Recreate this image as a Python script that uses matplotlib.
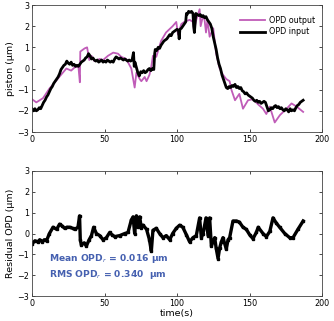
import matplotlib
matplotlib.use("Agg")
import matplotlib.pyplot as plt

# ---- data ----
t_in = [0, 1, 2, 3, 4, 5, 6, 7, 8, 9,
        10, 11, 12, 13, 14, 15, 16, 17, 18, 19,
        20, 21, 22, 23, 24, 25, 26, 27, 28, 29,
        30, 31, 32, 33, 34, 35, 36, 37, 38, 39,
        40, 41, 42, 43, 44, 45, 46, 47, 48, 49,
        50, 51, 52, 53, 54, 55, 56, 57, 58, 59,
        60, 61, 62, 63, 64, 65, 66, 67, 68, 69,
        70, 70.5, 71, 72, 73, 74, 75, 76, 77, 78,
        79, 80, 81, 82, 83, 84, 84.6, 85, 86, 87,
        88, 89, 90, 91, 92, 93, 94, 95, 96, 97,
        98, 99, 100, 101, 101.5, 102, 103, 104, 105, 106,
        106.5, 107, 108, 109, 110, 111, 111.5, 112, 113, 114,
        115, 116, 117, 118, 119, 120, 121, 122, 123, 124,
        125, 126, 127, 128, 129, 130, 131, 132, 133, 134,
        135, 136, 137, 138, 139, 140, 141, 142, 143, 144,
        145, 146, 147, 148, 149, 150, 151, 152, 153, 154,
        155, 156, 157, 158, 159, 160, 161, 162, 163, 164,
        165, 166, 167, 168, 169, 170, 171, 172, 173, 174,
        175, 176, 177, 178, 179, 180, 181, 182, 183, 184,
        185, 186, 187]
opd_in = [-1.9, -2.0, -1.9, -2.0, -1.95, -1.85, -1.9, -1.75, -1.6, -1.5,
          -1.35, -1.25, -1.1, -0.95, -0.85, -0.7, -0.6, -0.5, -0.4, -0.25,
          -0.05, 0.05, 0.15, 0.2, 0.35, 0.25, 0.2, 0.3, 0.15, 0.2,
          0.1, 0.15, 0.1, 0.2, 0.3, 0.35, 0.4, 0.5, 0.55, 0.7,
          0.6, 0.45, 0.5, 0.4, 0.35, 0.4, 0.3, 0.35, 0.4, 0.3,
          0.35, 0.3, 0.4, 0.35, 0.3, 0.35, 0.3, 0.45, 0.55, 0.5,
          0.45, 0.5, 0.45, 0.4, 0.45, 0.4, 0.35, 0.4, 0.35, 0.4,
          0.75, 0.1, 0.3, 0.05, -0.2, -0.35, -0.15, -0.2, -0.1, -0.2,
          -0.15, -0.05, 0.0, -0.1, 0.0, -0.05, 0.7, 0.9, 0.85, 1.0,
          0.95, 1.1, 1.2, 1.3, 1.35, 1.4, 1.5, 1.6, 1.55, 1.7,
          1.75, 1.8, 1.85, 1.8, 1.4, 1.85, 1.9, 2.0, 2.1, 2.2,
          2.6, 2.55, 2.7, 2.65, 2.7, 2.6, 2.0, 1.7, 2.6, 2.55,
          2.5, 2.55, 2.45, 2.5, 2.4, 2.45, 2.3, 2.2, 2.1, 1.9,
          1.5, 1.2, 0.9, 0.5, 0.2, 0.0, -0.3, -0.5, -0.7, -0.9,
          -0.95, -0.85, -0.9, -0.8, -0.85, -0.75, -0.9, -0.85, -0.95, -0.9,
          -1.05, -1.1, -1.2, -1.15, -1.25, -1.3, -1.35, -1.4, -1.5, -1.55,
          -1.5, -1.6, -1.55, -1.65, -1.6, -1.55, -1.6, -1.8, -2.0, -1.95,
          -1.85, -1.9, -1.8, -1.75, -1.85, -1.8, -1.9, -1.85, -1.95, -2.0,
          -1.9, -1.95, -2.05, -1.9, -2.0, -1.95, -2.0, -1.85, -1.75, -1.7,
          -1.6, -1.55, -1.5]

t_out = [0, 3, 7.6, 12, 17, 20, 23.7, 27, 29.4, 32,
         33, 33.3, 36.3, 38, 39.5, 41, 43, 46.7, 49, 52.4,
         56, 59.3, 61.6, 65, 68.5, 70.8, 72, 74.3, 75.4, 77.7,
         79, 81, 82.3, 83.4, 85.7, 89, 92.4, 97, 99.5, 100.7,
         103, 105, 108.7, 111, 111.7, 113.3, 115.6, 116.3, 118, 119,
         120, 121, 122.5, 125, 127, 129.4, 131.7, 134, 136.3, 137.5,
         140, 143, 145.5, 149, 152.4, 156, 159.3, 161.6, 164, 167.4,
         171, 175.6, 179, 182.5, 187]
opd_out = [-1.45, -1.6, -1.4, -0.95, -0.55, -0.3, 0.0, -0.1, 0.05, 0.1,
           -0.65, 0.8, 0.95, 1.0, 0.4, 0.6, 0.35, 0.45, 0.4, 0.6,
           0.75, 0.7, 0.55, 0.45, 0.0, -0.9, -0.2, -0.5, -0.6, -0.4,
           -0.6, -0.3, 0.1, 0.6, 0.55, 1.3, 1.7, 2.0, 2.2, 1.6,
           2.1, 2.2, 2.3, 2.2, 1.8, 2.3, 2.8, 2.0, 2.5, 2.3,
           1.7, 2.3, 1.5, 1.9, 0.7, 0.0, -0.3, -0.5, -0.6, -1.0,
           -1.5, -1.2, -1.9, -1.5, -1.45, -1.7, -1.9, -2.15, -1.8, -2.55,
           -2.2, -1.9, -1.65, -1.8, -2.05]

t_res = [0, 2, 4, 5.3, 7, 8.5, 10, 12, 14.5, 17,
         19, 21, 22.5, 24, 26, 28, 29.4, 31.7, 32.8, 33.3,
         34, 36, 37.5, 39.4, 41, 42.5, 44.4, 46.7, 49, 51.3,
         53.6, 55, 57, 60.5, 64, 66.2, 68.5, 69.7, 70.8, 72,
         73.1, 74.3, 75.4, 76.6, 79, 81, 82.3, 83.4, 85.7, 88,
         90.3, 92.6, 95, 97, 99.5, 101.8, 104, 106.4, 108.7, 111,
         113.3, 115.6, 116.8, 118, 120, 121.4, 122.5, 123.7, 126, 127,
         128.3, 129.4, 130.6, 131.7, 134, 135.2, 136.3, 138.6, 141, 143,
         145.5, 147.8, 150, 152.4, 154.7, 156, 159.3, 161.6, 164, 166.2,
         168.5, 170.8, 174.3, 177.7, 180, 183.4, 187]
res = [-0.5, -0.35, -0.4, -0.3, -0.4, -0.3, -0.35, 0.0, 0.3, 0.2,
       0.45, 0.35, 0.25, 0.3, 0.3, 0.25, 0.2, 0.3, 0.85, -0.3,
       -0.55, -0.45, -0.6, -0.3, -0.1, 0.3, 0.0, -0.1, -0.3, -0.2,
       0.05, -0.05, -0.15, -0.1, 0.0, 0.05, 0.65, 0.8, 0.0, 0.85,
       0.3, 0.8, 0.25, 0.4, 0.2, -0.3, -0.85, 0.15, 0.25, 0.0,
       -0.2, -0.1, -0.3, 0.0, 0.25, 0.4, 0.3, -0.05, -0.4, -0.2,
       -0.1, 0.75, -0.2, 0.0, 0.75, -0.1, 0.75, -0.6, -0.2, -0.7,
       -1.2, -0.7, -0.4, -0.2, -0.75, -0.3, -0.2, 0.6, 0.6, 0.55,
       0.3, 0.2, -0.05, -0.25, 0.05, 0.3, 0.0, -0.15, 0.1, 0.75,
       0.5, 0.3, 0.0, -0.2, -0.2, 0.2, 0.6]

x_ticks = [0, 50, 100, 150, 200]
y_ticks = [-3, -2, -1, 0, 1, 2, 3]

# ---- figure ----
W, H = 334, 321
fig = plt.figure(figsize=(W / 100, H / 100), dpi=100)
plt.rcParams['font.family'] = ['DejaVu Sans']

ax1 = fig.add_axes([32 / W, 1 - 132 / H, 290 / W, 127 / H])
ax2 = fig.add_axes([32 / W, 1 - 296 / H, 290 / W, 125 / H])

magenta = '#c05cb8'
ax1.plot(t_out, opd_out, color=magenta, lw=1.3, label='OPD output')
ax1.plot(t_in, opd_in, color='black', lw=2.0, label='OPD input')
ax1.legend(loc='upper right', frameon=False, fontsize=5.8, handlelength=3.2,
           handletextpad=0.4, labelspacing=0.3, bbox_to_anchor=(1.0, 0.97))
ax1.set_ylabel('piston (µm)', fontsize=6.8, labelpad=2)

ax2.plot(t_res, res, color='black', lw=2.4, marker='s', markersize=2.0)
ax2.set_ylabel('Residual OPD (µm)', fontsize=6.8, labelpad=2)
ax2.set_xlabel('time(s)', fontsize=6.8, labelpad=1)

blue = '#4560b0'
ax2.text(11.7, -1.22, 'Mean OPD$_r$ = 0.016 µm', color=blue, fontsize=6.6,
         fontweight='bold', va='center', ha='left')
ax2.text(11.7, -1.95, 'RMS OPD$_r$ = 0.340  µm', color=blue, fontsize=6.6,
         fontweight='bold', va='center', ha='left')

for ax in (ax1, ax2):
    ax.set_xlim(0, 200)
    ax.set_ylim(-3, 3)
    ax.set_xticks(x_ticks)
    ax.set_yticks(y_ticks)
    ax.tick_params(direction='in', top=True, right=True, labelsize=5.8,
                   length=2.5, width=0.5, pad=2)
    for s in ax.spines.values():
        s.set_linewidth(0.6)
        s.set_color('#444444')

fig.savefig('out.png', dpi=100)
